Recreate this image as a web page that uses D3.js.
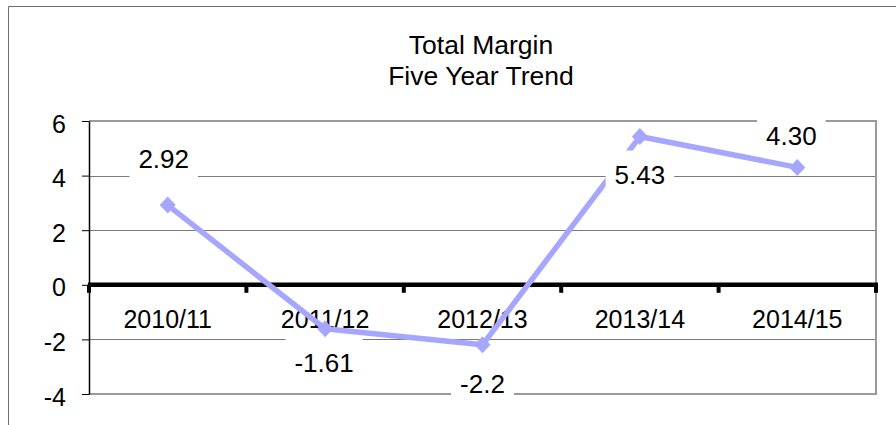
<!DOCTYPE html>
<html>
<head>
<meta charset="utf-8">
<script src="https://cdn.jsdelivr.net/npm/d3@7"></script>
<style>
  html, body { margin: 0; padding: 0; background: #fff; }
  svg { display: block; font-family: "Liberation Sans", Arial, sans-serif; }
</style>
</head>
<body>
<svg id="chart" width="896" height="425"></svg>
<script>
// ---- data ----
const categories = ["2010/11", "2011/12", "2012/13", "2013/14", "2014/15"];
const values = [2.92, -1.61, -2.2, 5.43, 4.30];
const valueLabels = ["2.92", "-1.61", "-2.2", "5.43", "4.30"];
const yTicks = [-4, -2, 0, 2, 4, 6];
const titleLines = ["Total Margin", "Five Year Trend"];

// ---- layout (label placement as positioned in the original) ----
const labelDx = [-4, -1, 0, 0, -6];
const labelDy = [-37, 43, 48, 47, -22];

const W = 896, H = 425;
const plot = { left: 89, top: 121, right: 876, bottom: 394 };
const lineColor = "#a6a6ff";

const svg = d3.select("#chart");

const x = d3.scaleBand().domain(categories).range([plot.left, plot.right]);
const y = d3.scaleLinear().domain([-4, 6]).range([plot.bottom, plot.top]);

// outer chart frame (clipped on right/bottom)
svg.append("path")
  .attr("d", `M8.5,${H + 2} L8.5,6.5 L${W + 2},6.5`)
  .attr("fill", "none").attr("stroke", "#6f6f6f").attr("stroke-width", 1);

// title
svg.append("g").selectAll("text").data(titleLines).join("text")
  .attr("x", 481).attr("y", (d, i) => 54 + i * 31)
  .attr("text-anchor", "middle")
  .attr("font-size", 26.5).attr("fill", "#000")
  .text(d => d);

// gridlines (interior)
svg.append("g").selectAll("line")
  .data(yTicks.filter(t => t !== 0 && t !== -4 && t !== 6)).join("line")
  .attr("x1", plot.left).attr("x2", plot.right)
  .attr("y1", d => Math.round(y(d)) + 0.5).attr("y2", d => Math.round(y(d)) + 0.5)
  .attr("stroke", "#7a7a7a").attr("stroke-width", 1);

// plot border (top, right, bottom)
svg.append("path")
  .attr("d", `M${plot.left},${plot.top} L${plot.right},${plot.top} L${plot.right},${plot.bottom} L${plot.left},${plot.bottom}`)
  .attr("fill", "none").attr("stroke", "#9a9a9a").attr("stroke-width", 2);

// y axis
const yAxis = d3.axisLeft(y).tickValues(yTicks).tickSize(7).tickSizeOuter(0).tickPadding(16)
  .tickFormat(d => String(d));
const gy = svg.append("g").attr("transform", `translate(${plot.left},0)`).call(yAxis);
gy.select(".domain").attr("stroke", "#000").attr("stroke-width", 1.5);
gy.selectAll(".tick line").attr("stroke", "#000").attr("stroke-width", 1);
gy.selectAll(".tick text")
  .attr("font-family", "Liberation Sans, Arial, sans-serif")
  .attr("font-size", 25).attr("fill", "#000")
  .attr("dy", null).attr("y", 11);

// zero axis line
svg.append("line")
  .attr("x1", plot.left - 1).attr("x2", plot.right + 2)
  .attr("y1", y(0)).attr("y2", y(0))
  .attr("stroke", "#000").attr("stroke-width", 4.5);

// category boundary ticks
const bounds = categories.map(c => x(c)).concat([plot.right]);
svg.append("g").selectAll("rect").data(bounds).join("rect")
  .attr("x", d => d - 2).attr("y", y(0))
  .attr("width", 4).attr("height", 8)
  .attr("fill", "#000");

// category labels
svg.append("g").selectAll("text").data(categories).join("text")
  .attr("x", d => x(d) + x.bandwidth() / 2)
  .attr("y", 328)
  .attr("text-anchor", "middle")
  .attr("font-size", 25).attr("fill", "#000")
  .text(d => d);

// series line
const pts = categories.map((c, i) => [x(c) + x.bandwidth() / 2, y(values[i])]);
svg.append("path")
  .attr("d", d3.line()(pts))
  .attr("fill", "none").attr("stroke", lineColor)
  .attr("stroke-width", 5.5).attr("stroke-linejoin", "round");

// diamond markers
svg.append("g").selectAll("path").data(pts).join("path")
  .attr("d", d => `M${d[0]},${d[1] - 8.5} L${d[0] + 8},${d[1]} L${d[0]},${d[1] + 8.5} L${d[0] - 8},${d[1]} Z`)
  .attr("fill", lineColor);

// data labels with white boxes
const lbl = svg.append("g");
categories.forEach((c, i) => {
  const cx = pts[i][0] + labelDx[i];
  const by = pts[i][1] + labelDy[i];
  const t = lbl.append("text")
    .attr("x", cx).attr("y", by)
    .attr("text-anchor", "middle")
    .attr("font-size", 26).attr("fill", "#000")
    .text(valueLabels[i]);
  const bb = t.node().getBBox();
  lbl.insert("rect", () => t.node())
    .attr("x", bb.x - 9).attr("y", by - 33)
    .attr("width", bb.width + 18).attr("height", 43)
    .attr("fill", "#fff");
});
</script>
</body>
</html>
